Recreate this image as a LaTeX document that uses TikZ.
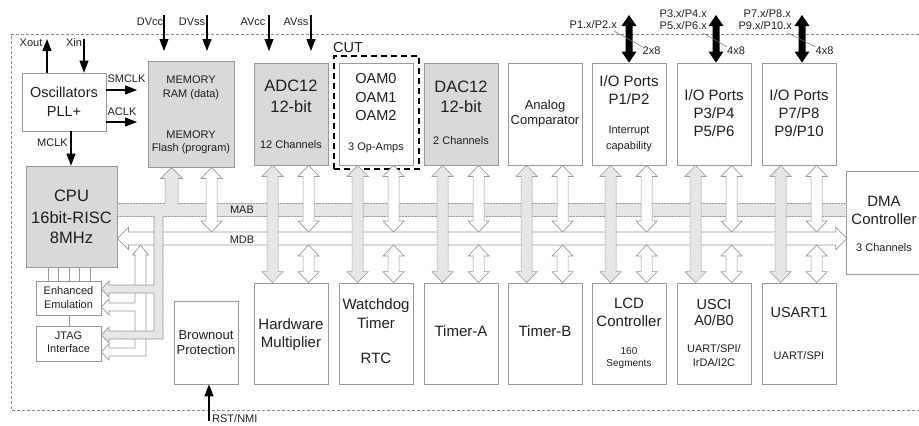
\documentclass[tikz,border=0pt]{standalone}
\usepackage{fontspec}
\setmainfont{Liberation Sans}
\usetikzlibrary{arrows.meta,calc,patterns}
\newcommand\myfs[1]{\fontsize{#1}{#1}\selectfont}
\definecolor{txt}{gray}{0.12}
\definecolor{edge}{gray}{0.6}
\tikzset{
  box/.style={draw=edge, line width=0.8pt, fill=white, inner sep=0pt},
  gbox/.style={box, fill=black!15},
  cutbox/.style={draw=black, line width=1.3pt, dash pattern=on 6pt off 4pt, inner sep=0pt},
  border/.style={draw=black!45, line width=0.6pt, dash pattern=on 3pt off 2pt},
  sig/.style={draw=black, line width=1.2pt, -{Triangle[length=12pt,width=9pt]}},
  link/.style={draw=edge, line width=0.7pt},
  leader/.style={draw=black!55, line width=0.5pt},
  hatchfill/.style={fill=black!8, postaction={pattern=north east lines, pattern color=black!13}},
  gbus/.style={draw=edge, line width=0.7pt, hatchfill},
  wbus/.style={draw=edge, line width=0.7pt, fill=white},
  busline/.style={draw=edge, line width=0.7pt},
  t10/.style={font=\myfs{10}, inner sep=0pt, text height=7.2pt, text depth=0pt, text=txt},
  t11/.style={font=\myfs{11}, inner sep=0pt, text height=7.9pt, text depth=0pt, text=txt},
  t13/.style={font=\myfs{13}, inner sep=0pt, text height=9.3pt, text depth=0pt, text=txt},
  t14/.style={font=\myfs{14.5}, inner sep=0pt, text height=10.4pt, text depth=0pt, text=txt},
  t15/.style={font=\myfs{15}, inner sep=0pt, text height=10.8pt, text depth=0pt, text=txt},
  t16/.style={font=\myfs{16.5}, inner sep=0pt, text height=11.8pt, text depth=0pt, text=txt},
}
% #1 style, #2 point giving x, #3 point giving top y, #4 point giving bottom y
\newcommand\busarrow[4]{\path[#1] let \p1=(#2), \p2=(#3), \p3=(#4) in
  (\x1,\y2) -- (\x1+10.5pt,\y2-11pt) -- (\x1+5.5pt,\y2-11pt) -- (\x1+5.5pt,\y3+11pt)
  -- (\x1+10.5pt,\y3+11pt) -- (\x1,\y3) -- (\x1-10.5pt,\y3+11pt) -- (\x1-5.5pt,\y3+11pt)
  -- (\x1-5.5pt,\y2-11pt) -- (\x1-10.5pt,\y2-11pt) -- cycle;}
\newcommand\portarrow[3]{\fill[black] let \p1=(#1), \p2=(#2), \p3=(#3) in
  (\x1,\y2) -- (\x1+7.5pt,\y2-11pt) -- (\x1+3.5pt,\y2-11pt) -- (\x1+3.5pt,\y3+11pt)
  -- (\x1+7.5pt,\y3+11pt) -- (\x1,\y3) -- (\x1-7.5pt,\y3+11pt) -- (\x1-3.5pt,\y3+11pt)
  -- (\x1-3.5pt,\y2-11pt) -- (\x1-7.5pt,\y2-11pt) -- cycle;}
\begin{document}
\begin{tikzpicture}[x=1pt,y=-1pt]
\useasboundingbox (0,0) rectangle (919,426);
% outer dashed border
\draw[border] (919,34) -- (11,34) -- (11,410) -- (919,410);

% ---------- boxes ----------
\node[box, minimum width=84pt, minimum height=58pt] (osc) at (64,102) {};
\node[gbox, minimum width=91pt, minimum height=101pt] (cpu) at (71.5,216.5) {};
\node[gbox, minimum width=86pt, minimum height=106pt] (mem) at (191,114) {};
\node[cutbox, minimum width=85pt, minimum height=113pt] (cut) at (376.5,112.5) {};
\foreach \n/\x/\s in {adc/291/gbox, oam/376/box, dac/461/gbox, ac/545/box, io1/629/box, io2/714/box, io3/799/box}
  \node[\s, minimum width=74pt, minimum height=102pt] (\n) at (\x,114) {};
\foreach \n/\x in {hwm/291, wdt/376, tima/461, timb/545, lcd/629, usci/714, usart/799}
  \node[box, minimum width=74pt, minimum height=101pt] (\n) at (\x,333.5) {};
\node[box, minimum width=64pt, minimum height=83pt] (brown) at (206,342.5) {};
\node[box, minimum width=65pt, minimum height=34pt] (emu) at (68.5,298) {};
\node[box, minimum width=65pt, minimum height=35pt] (jtag) at (68.5,343.5) {};
\node[inner sep=0pt, minimum width=72pt, minimum height=102pt] (dma) at (883,223) {};
\draw[link, line width=0.8pt] (dma.north east) -- (dma.north west) -- (dma.south west) -- (dma.south east);

% ---------- buses ----------
\coordinate (mabT) at (0,203);
\coordinate (mabB) at (0,216);
\coordinate (mdbT) at (0,232);
\coordinate (mdbB) at (0,245);
\path[gbus] (cpu.east |- mabT) rectangle (dma.west |- mabB);
\path[wbus] let \p1=(cpu.east), \p2=(dma.west), \p3=(0,238.5) in
  (\x1,\y3) -- (\x1+11pt,\y3+11pt) -- (\x1+11pt,\y3+6.5pt) -- (\x2-11pt,\y3+6.5pt)
  -- (\x2-11pt,\y3+11pt) -- (\x2,\y3) -- (\x2-11pt,\y3-11pt) -- (\x2-11pt,\y3-6.5pt)
  -- (\x1+11pt,\y3-6.5pt) -- (\x1+11pt,\y3-11pt) -- cycle;

% left combs to emulation / JTAG
\path[wbus] (140.5,245) -- (148.5,255) -- (146,255) -- (146,356) -- (109,356) -- (109,360)
  -- (jtag.east |- 0,352) -- (109,344) -- (109,348) -- (135,348) -- (135,311) -- (109,311)
  -- (109,315) -- (emu.east |- 0,307) -- (109,299) -- (109,303) -- (135,303) -- (135,255)
  -- (132.5,255) -- cycle;
\path[hatchfill] (154,215) -- (163,215) -- (163,339) -- (109,339) -- (109,343)
  -- (jtag.east |- 0,335) -- (109,327) -- (109,331) -- (154,331) -- (154,293) -- (109,293)
  -- (109,297) -- (emu.east |- 0,289) -- (109,281) -- (109,285) -- (154,285) -- cycle;
\draw[busline] (163,216) -- (163,339) -- (109,339) -- (109,343)
  -- (jtag.east |- 0,335) -- (109,327) -- (109,331) -- (154,331) -- (154,293) -- (109,293)
  -- (109,297) -- (emu.east |- 0,289) -- (109,281) -- (109,285) -- (154,285) -- (154,216);

% memory connections
\path[hatchfill] let \p1=($(mem.south west)+(24,0)$), \p2=(mem.south), \p3=(0,204) in
  (\x1,\y2) -- (\x1+11pt,\y2-11pt) -- (\x1+6.5pt,\y2-11pt) -- (\x1+6.5pt,\y3)
  -- (\x1-6.5pt,\y3) -- (\x1-6.5pt,\y2-11pt) -- (\x1-11pt,\y2-11pt) -- cycle;
\draw[busline] let \p1=($(mem.south west)+(24,0)$), \p2=(mem.south), \p3=(0,203) in
  (\x1+6.5pt,\y3) -- (\x1+6.5pt,\y2-11pt) -- (\x1+11pt,\y2-11pt) -- (\x1,\y2)
  -- (\x1-11pt,\y2-11pt) -- (\x1-6.5pt,\y2-11pt) -- (\x1-6.5pt,\y3);
\busarrow{wbus}{$(mem.south west)+(64,0)$}{mem.south}{mdbT}

% module columns
\foreach \t/\b in {adc/hwm, oam/wdt, dac/tima, ac/timb, io1/lcd, io2/usci, io3/usart}{
  \busarrow{gbus}{$(\t.south west)+(19,0)$}{\t.south}{\b.north}
  \busarrow{wbus}{$(\t.south west)+(55,0)$}{\t.south}{mdbT}
  \busarrow{wbus}{$(\t.south west)+(55,0)$}{mdbB}{\b.north}
}

% CPU to emulation, emulation to JTAG
\foreach \x in {48,58,69,79,90} \draw[link] (\x,0 |- cpu.south) -- (\x,0 |- emu.north);
\draw[link] (69,0 |- emu.south) -- (69,0 |- jtag.north);

% ---------- signal arrows ----------
\coordinate (xout) at (47,39);
\coordinate (xin) at (84,39);
\draw[sig] (xout |- osc.north) -- (xout);
\draw[sig] (xin) -- (xin |- osc.north);
\coordinate (smclk) at (137,90);
\coordinate (aclk) at (137,122);
\draw[sig] (osc.east |- smclk) -- (smclk);
\draw[sig] (osc.east |- aclk) -- (aclk);
\coordinate (mclk) at (71,131);
\draw[sig] (mclk) -- (mclk |- cpu.north);
\foreach \n/\x in {dvcc/164, dvss/207, avcc/269, avss/311}{
  \coordinate (\n) at (\x,15);
  \coordinate (\n-e) at (\x,51);
  \draw[sig] (\n) -- (\n-e);
}
\coordinate (rst) at (209,421);
\draw[sig] (rst) -- (rst |- brown.south);

% port arrows
\coordinate (pa1) at (629,15);
\coordinate (pa2) at (716,15);
\coordinate (pa3) at (802,15);
\portarrow{pa1}{pa1}{io1.north}
\portarrow{pa2}{pa2}{io2.north}
\portarrow{pa3}{pa3}{io3.north}

% ---------- labels ----------
\node[t11] (lxout) at (31,43) {Xout};
\node[t11] (lxin) at (74,43) {Xin};
\node[t11] (lsm) at (126.5,79) {SMCLK};
\node[t11] (lac) at (122,112) {ACLK};
\node[t11] (lmc) at (52.5,143) {MCLK};
\node[t11] (ldvcc) at (150,22) {DVcc};
\node[t11] (ldvss) at (192,22) {DVss};
\node[t11] (lavcc) at (253,22) {AVcc};
\node[t11] (lavss) at (296,22) {AVss};
\node[t14] (lcut) at (348,47) {CUT};
\node[t11, anchor=east] (lp12) at (617,25) {P1.x/P2.x};
\node[t11, anchor=east] (lp34) at (707,14) {P3.x/P4.x};
\node[t11, anchor=east] (lp56) at (707,26) {P5.x/P6.x};
\node[t11, anchor=east] (lp78) at (791,14) {P7.x/P8.x};
\node[t11, anchor=east] (lp910) at (792,26) {P9.x/P10.x};
\node[t11] (w1) at (651.5,51) {2x8};
\node[t11] (w2) at (736,51) {4x8};
\node[t11] (w3) at (824.5,51) {4x8};
\coordinate (ld1) at (614,31);
\coordinate (ld2) at (703,33);
\coordinate (ld3) at (788,33);
\draw[leader] (ld1) -- (w1.north west);
\draw[leader] (ld2) -- (w2.north west);
\draw[leader] (ld3) -- (w3.north west);
\node[t11] (lmab) at (242,210) {MAB};
\node[t11] (lmdb) at (242,239.5) {MDB};
\node[t11, anchor=west] (lrst) at (212,418.5) {RST/NMI};

% box texts
\node[t14] (osc1) at (64,92.5) {Oscillators};
\node[t14] (osc2) at (64,111) {PLL+};
\node[t16] (cpu1) at (71.5,196) {CPU};
\node[t16] (cpu2) at (71.5,218) {16bit-RISC};
\node[t16] (cpu3) at (71.5,237.5) {8MHz};
\node[t11] (mem1) at (191,80) {MEMORY};
\node[t11] (mem2) at (191,94) {RAM (data)};
\node[t11] (mem3) at (191,134.5) {MEMORY};
\node[t11] (mem4) at (191,148) {Flash (program)};
\node[t16] (adc1) at (291,86) {ADC12};
\node[t16] (adc2) at (291,106.5) {12-bit};
\node[t11] (adc3) at (291,144.5) {12 Channels};
\node[t14] (oam1) at (376,78.5) {OAM0};
\node[t14] (oam2) at (376,97) {OAM1};
\node[t14] (oam3) at (376,115.5) {OAM2};
\node[t11] (oam4) at (376,146.5) {3 Op-Amps};
\node[t16] (dac1) at (461,86.5) {DAC12};
\node[t16] (dac2) at (461,106.5) {12-bit};
\node[t11] (dac3) at (461,141) {2 Channels};
\node[t13] (ac1) at (545,104.5) {Analog};
\node[t13] (ac2) at (545,120) {Comparator};
\node[t15] (io1a) at (629,81.5) {I/O Ports};
\node[t15] (io1b) at (629,99.5) {P1/P2};
\node[t11] (io1c) at (629,129.5) {Interrupt};
\node[t11] (io1d) at (629,146) {capability};
\node[t15] (io2a) at (714,95.5) {I/O Ports};
\node[t15] (io2b) at (714,113.5) {P3/P4};
\node[t15] (io2c) at (714,131.5) {P5/P6};
\node[t15] (io3a) at (799,95.5) {I/O Ports};
\node[t15] (io3b) at (799,113.5) {P7/P8};
\node[t15] (io3c) at (799,131.5) {P9/P10};
\node[t15] (hwm1) at (291,324) {Hardware};
\node[t15] (hwm2) at (291,342) {Multiplier};
\node[t15] (wdt1) at (376,304.5) {Watchdog};
\node[t15] (wdt2) at (376,323) {Timer};
\node[t15] (wdt3) at (376,358.5) {RTC};
\node[t15] (ta1) at (461,331.5) {Timer-A};
\node[t15] (tb1) at (545,331.5) {Timer-B};
\node[t15] (lcd1) at (629,303.5) {LCD};
\node[t15] (lcd2) at (629,321.5) {Controller};
\node[t10] (lcd3) at (629,350.5) {160};
\node[t10] (lcd4) at (629,362.5) {Segments};
\node[t14] (usci1) at (714,304) {USCI};
\node[t14] (usci2) at (714,320) {A0/B0};
\node[t11] (usci3) at (714,349) {UART/SPI/};
\node[t11] (usci4) at (714,363) {IrDA/I2C};
\node[t14] (usart1) at (799,312) {USART1};
\node[t11] (usart2) at (799,355.5) {UART/SPI};
\node[t15] (dma1) at (884,201) {DMA};
\node[t15] (dma2) at (884,219) {Controller};
\node[t11] (dma3) at (884,248) {3 Channels};
\node[t13] (br1) at (206,335) {Brownout};
\node[t13] (br2) at (206,350) {Protection};
\node[t11] (emu1) at (68.5,291) {Enhanced};
\node[t11] (emu2) at (68.5,305) {Emulation};
\node[t11] (jt1) at (68.5,336) {JTAG};
\node[t11] (jt2) at (68.5,349) {Interface};
\end{tikzpicture}
\end{document}
